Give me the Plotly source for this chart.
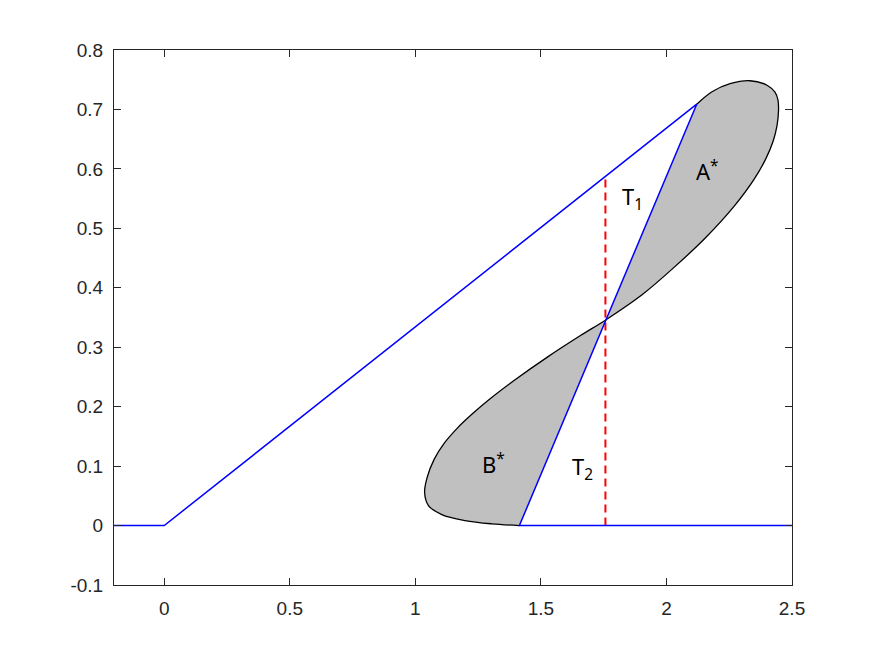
import plotly.graph_objects as go

# Closed lobe curve (black outline)
curve_x = [1.4144, 1.3045, 1.1983, 1.1055, 1.0522, 1.0370, 1.0470, 1.0748, 1.1146, 1.1664,
           1.2261, 1.2978, 1.3973, 1.5287, 1.6561, 1.7596,
           1.9041, 2.0303, 2.1576, 2.2691, 2.3487, 2.3965, 2.4244, 2.4403, 2.4463, 2.4443,
           2.4323, 2.4005, 2.3328, 2.2532, 2.1815, 2.1206]
curve_y = [0.0000, 0.0029, 0.0084, 0.0185, 0.0337, 0.0556, 0.0808, 0.1113, 0.1382, 0.1635,
           0.1875, 0.2133, 0.2453, 0.2842, 0.3192, 0.3463,
           0.3887, 0.4343, 0.4850, 0.5369, 0.5823, 0.6177, 0.6460, 0.6729, 0.6987, 0.7155,
           0.7290, 0.7407, 0.7483, 0.7433, 0.7298, 0.7088]

# Blue polyline
blue_x = [-0.2, 0.0, 2.1206, 1.4144, 2.5]
blue_y = [0.0, 0.0, 0.7088, 0.0, 0.0]

# Red dashed vertical line
red_x = [1.757, 1.757]
red_y = [0.0, 0.587]

# Labels
label_text = ["A<sup>*</sup>", "T<sub>1</sub>", "B<sup>*</sup>", "T<sub>2</sub>"]
label_x = [2.164, 1.866, 1.312, 1.665]
label_y = [0.597, 0.551, 0.105, 0.097]

x_ticks = [0, 0.5, 1, 1.5, 2, 2.5]
x_ticktext = ["0", "0.5", "1", "1.5", "2", "2.5"]
y_ticks = [-0.1, 0, 0.1, 0.2, 0.3, 0.4, 0.5, 0.6, 0.7, 0.8]
y_ticktext = ["-0.1", "0", "0.1", "0.2", "0.3", "0.4", "0.5", "0.6", "0.7", "0.8"]

fig = go.Figure()
fig.add_trace(go.Scatter(x=curve_x, y=curve_y, mode="lines", fill="toself",
                         fillcolor="#c0c0c0", line=dict(color="black", width=1.3),
                         line_shape="spline", hoverinfo="skip"))
fig.add_trace(go.Scatter(x=red_x, y=red_y, mode="lines",
                         line=dict(color="#ff0000", width=2, dash="8px,5px")))
fig.add_trace(go.Scatter(x=blue_x, y=blue_y, mode="lines",
                         line=dict(color="#0000ff", width=1.5)))

for t, x, y in zip(label_text, label_x, label_y):
    fig.add_annotation(x=x, y=y, text=t, showarrow=False,
                       font=dict(family="Noto Sans", size=22, color="black"))

axis_common = dict(showgrid=False, zeroline=False, showline=True, linecolor="#262626",
                   linewidth=1, mirror="ticks", ticks="inside", ticklen=7,
                   tickcolor="#262626",
                   tickfont=dict(family="Liberation Sans", size=19, color="#262626"))

fig.update_xaxes(range=[-0.2, 2.5], tickvals=x_ticks, ticktext=x_ticktext,
                 ticklabelstandoff=6, **axis_common)
fig.update_yaxes(range=[-0.1, 0.8], tickvals=y_ticks, ticktext=y_ticktext,
                 ticklabelstandoff=6, **axis_common)

fig.update_layout(width=867, height=648, showlegend=False,
                  plot_bgcolor="white", paper_bgcolor="white",
                  margin=dict(l=106, r=83, t=42, b=71))

fig.write_html("out.html")
